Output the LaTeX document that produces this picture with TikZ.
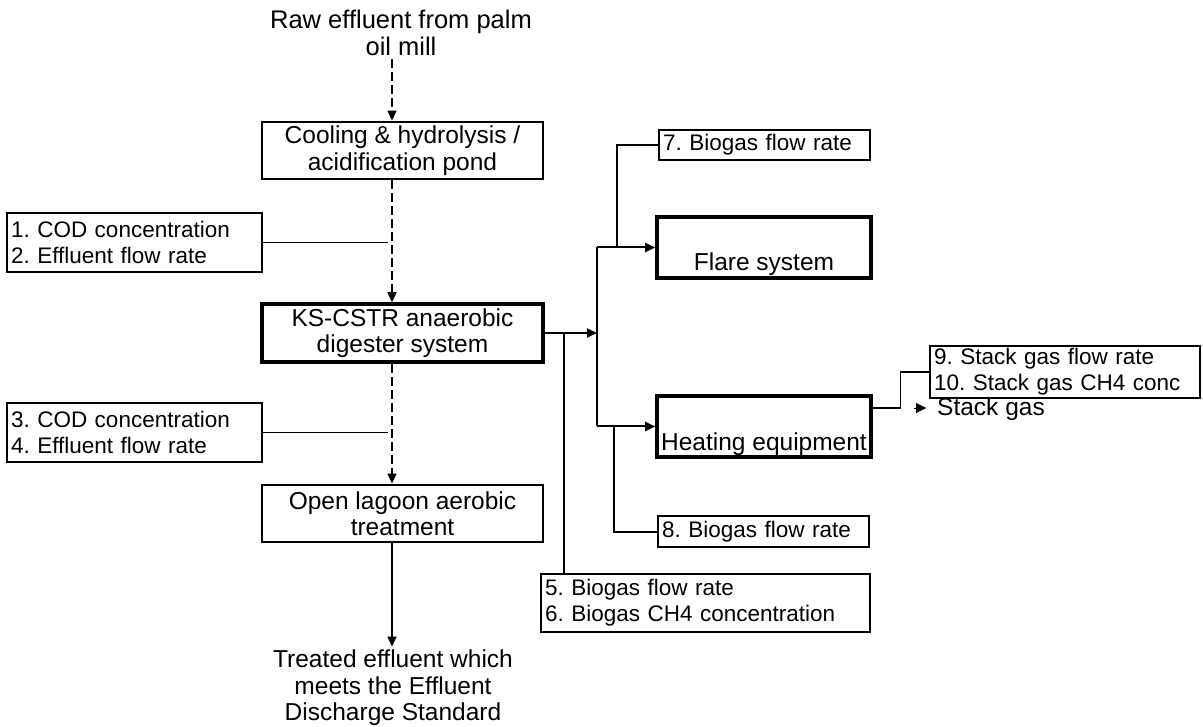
\documentclass[tikz,border=0pt]{standalone}
\usepackage{fontspec}
\setmainfont{Liberation Sans}
\usetikzlibrary{arrows.meta}
\frenchspacing
\begin{document}
\begin{tikzpicture}[x=1pt,y=-1pt,
  every node/.style={font=\fontsize{24.5}{26.5}\selectfont},
  datafont/.style={font=\fontsize{22.5}{26}\selectfont},
  procbox/.style={draw, line width=2.8pt, align=center, inner sep=0pt},
  databox/.style={draw, datafont, line width=1.8pt, align=left, inner xsep=4pt, inner ysep=0pt},
  flow/.style={line width=2pt},
  thinflow/.style={line width=1.2pt},
  tip/.style={-{Triangle[length=10pt,width=9pt]}},
  dashflow/.style={line width=1.7pt, dash pattern=on 9pt off 4pt},
]
\useasboundingbox (0,0) rectangle (1203,727);

% x positions of the vertical runs
\coordinate (flowx) at (392,0);
\coordinate (tapx) at (388,0);
\coordinate (bus) at (597,0);
\coordinate (b56x) at (564,0);
\coordinate (b7x) at (617,0);
\coordinate (b8x) at (614,0);

% main treatment train
\node[align=center, font=\fontsize{25.5}{27}\selectfont] (raw) at (401,33) {Raw effluent from palm\\oil mill};
\node[procbox, minimum width=281pt, minimum height=57pt] (cool) at (402.5,150.5)
  {Cooling \& hydrolysis /\\acidification pond};
\node[procbox, line width=3.6pt, minimum width=281pt, minimum height=58pt] (ks) at (402.5,333)
  {KS-CSTR anaerobic\\digester system};
\node[procbox, minimum width=281pt, minimum height=57pt] (lag) at (402.5,513.5)
  {Open lagoon aerobic\\treatment};
\node[align=center] (treat) at (393,688)
  {Treated effluent which\\meets the Effluent\\Discharge Standard};

% measurement points
\node[databox, text width=247pt, minimum height=59pt] (m12) at (134.5,242.5)
  {1. COD concentration\\2. Effluent flow rate};
\node[databox, text width=247pt, minimum height=59pt] (m34) at (134.5,432.5)
  {3. COD concentration\\4. Effluent flow rate};
\node[databox, text width=321pt, minimum height=58pt] (m56) at (705.5,603)
  {5. Biogas flow rate\\6. Biogas CH4 concentration};
\node[databox, text width=203pt, minimum height=30pt] (b7) at (764.5,145)
  {7. Biogas flow rate};
\node[databox, text width=203pt, minimum height=31pt] (b8) at (763.5,531.5)
  {8. Biogas flow rate};
\node[databox, line width=1.5pt, text width=262pt, minimum height=52pt] (m910) at (1065,372)
  {9. Stack gas flow rate\\10. Stack gas CH4 conc};

% biogas users
\node[procbox, line width=3.6pt, minimum width=214pt, minimum height=61pt] (flare) at (764,247.5)
  {\strut\\[6pt]Flare system};
\node[procbox, line width=3.6pt, minimum width=214pt, minimum height=61pt] (heat) at (764,426.5)
  {\strut\\[8pt]Heating equipment};
\node[anchor=west, inner sep=0pt] (stack) at (937,409) {Stack gas};
\coordinate (stk) at (914,408);

% effluent flow
\draw[dashflow, tip] (raw.south -| flowx) -- (cool.north -| flowx);
\draw[dashflow, tip] (cool.south -| flowx) -- (ks.north -| flowx);
\draw[dashflow, line width=1.3pt, tip] (ks.south -| flowx) -- (lag.north -| flowx);
\draw[thinflow, line width=1.5pt, tip] (lag.south -| flowx) -- (treat.north -| flowx);
\draw[flow, line width=1.6pt] (m12.east) -- (m12.east -| tapx);
\draw[flow, line width=1.6pt] (m34.east) -- (m34.east -| tapx);

% biogas distribution
\draw[flow, tip] (ks.east) -- (ks.east -| bus);
\draw[flow] (ks.east -| b56x) -- (m56.north -| b56x);
\draw[flow] (flare.west -| bus) -- (heat.west -| bus);
\draw[flow, tip] (flare.west -| bus) -- (flare.west);
\draw[flow, tip] (heat.west -| bus) -- (heat.west);
\draw[flow] (flare.west -| b7x) -- (b7.west -| b7x) -- (b7.west);
\draw[flow] (heat.west -| b8x) -- (b8.west -| b8x) -- (b8.west);

% stack gas
\draw[thinflow] ([yshift=18.5pt]heat.east) -- ++(28,0) |- (m910.west);
\draw[line width=0.8pt, -{Triangle[length=10pt,width=10pt]}] (stk) -- ++(12,0);
\end{tikzpicture}
\end{document}
